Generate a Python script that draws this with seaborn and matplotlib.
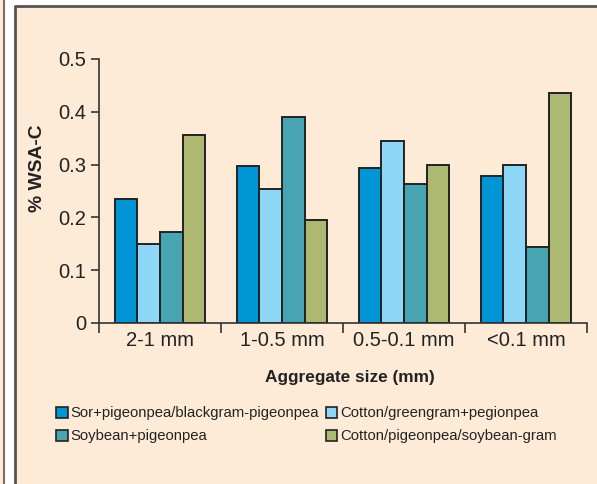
import matplotlib
matplotlib.use("Agg")
import matplotlib.pyplot as plt
from matplotlib.patches import Rectangle, Patch
from matplotlib.lines import Line2D
import seaborn as sns
import pandas as pd

# Aggregate size classes and water-soluble aggregate carbon per cropping system
sizes = ["2-1 mm", "1-0.5 mm", "0.5-0.1 mm", "<0.1 mm"]
systems = [
    "Sor+pigeonpea/blackgram-pigeonpea",
    "Cotton/greengram+pegionpea",
    "Soybean+pigeonpea",
    "Cotton/pigeonpea/soybean-gram",
]
sor_pigeonpea = [0.235, 0.297, 0.293, 0.278]
cotton_greengram = [0.150, 0.254, 0.345, 0.300]
soybean_pigeonpea = [0.172, 0.390, 0.263, 0.144]
cotton_soybean = [0.356, 0.195, 0.300, 0.435]
yticks = [0, 0.1, 0.2, 0.3, 0.4, 0.5]
ytick_labels = ["0", "0.1", "0.2", "0.3", "0.4", "0.5"]

colors = ["#0096D6", "#8ED7F6", "#46A5B0", "#ADB970"]
bg = "#FDEBD8"

values = [sor_pigeonpea, cotton_greengram, soybean_pigeonpea, cotton_soybean]
rows = []
for sys_name, vals in zip(systems, values):
    for size, v in zip(sizes, vals):
        rows.append({"size": size, "system": sys_name, "wsac": v})
df = pd.DataFrame(rows)

sns.set_theme(style="white")
plt.rcParams["font.family"] = ["Liberation Sans", "DejaVu Sans"]

fig = plt.figure(figsize=(5.97, 4.84), dpi=100, facecolor="white")

# framed panel background
W, H = 597, 484
fig.patches.append(Rectangle((0, 0), 3 / W, 1, transform=fig.transFigure,
                             facecolor=bg, edgecolor="none", zorder=-3))
fig.add_artist(Line2D([3.5 / W, 3.5 / W], [0, 1], transform=fig.transFigure,
                      color="#7A6E62", lw=1.5, zorder=-2))
fig.patches.append(Rectangle((14 / W, 0), 1 - 14 / W, 1 - 5 / H,
                             transform=fig.transFigure, facecolor=bg,
                             edgecolor="none", zorder=-3))
fig.add_artist(Line2D([14.5 / W, 14.5 / W, 1], [0, 1 - 5.5 / H, 1 - 5.5 / H],
                      transform=fig.transFigure, color="#555555", lw=2.0, zorder=-2))

ax = fig.add_axes([99 / W, 1 - 323 / H, (587 - 99) / W, (323 - 59) / H])
ax.set_zorder(2)
ax.set_facecolor("none")

sns.barplot(data=df, x="size", y="wsac", hue="system", order=sizes,
            hue_order=systems, palette=colors, width=0.74, ax=ax,
            edgecolor="#222222", linewidth=1.4, saturation=1, errorbar=None)
ax.legend_.remove()

ax.set_xlim(-0.5, 3.5)
ax.set_ylim(0, 0.5)
ax.set_yticks(yticks)
ax.set_yticklabels(ytick_labels)
ax.set_xticks([-0.5, 0.5, 1.5, 2.5, 3.5])
ax.set_xticklabels([])
ax.set_xticks(range(len(sizes)), minor=True)
ax.set_xticklabels(sizes, minor=True)
ax.tick_params(axis="x", which="major", direction="out", length=7, width=1.2,
               color="#333333", bottom=True)
ax.tick_params(axis="x", which="minor", length=0, labelsize=14.5, pad=6,
               labelcolor="#222222")
ax.tick_params(axis="y", direction="out", length=6, width=1.2, color="#333333",
               left=True, labelsize=14.5, pad=3, labelcolor="#222222")

for s in ["top", "right"]:
    ax.spines[s].set_visible(False)
for s in ["left", "bottom"]:
    ax.spines[s].set_color("#333333")
    ax.spines[s].set_linewidth(1.2)

ax.set_xlabel("Aggregate size (mm)", fontsize=12.4, fontweight="bold",
              color="#222222")
ax.set_ylabel("% WSA-C", fontsize=13.9, fontweight="bold", color="#222222")
ax.xaxis.set_label_coords(0.514, -0.207, transform=ax.transAxes)
ax.yaxis.set_label_coords(-0.125, 0.587, transform=ax.transAxes)
ax.xaxis.label.set_va("center")
ax.yaxis.label.set_va("center")

handles = [Patch(facecolor=c, edgecolor="#222222", linewidth=1.2) for c in colors]
order = [0, 2, 1, 3]
fig.legend([handles[i] for i in order], [systems[i] for i in order],
           loc="upper left", bbox_to_anchor=(43 / W, 1 - 393 / H), ncol=2,
           frameon=False, fontsize=10.7, handlelength=0.75, handleheight=0.75,
           handletextpad=0.2, columnspacing=0.45, labelspacing=0.6,
           labelcolor="#222222")

fig.savefig("out.png", dpi=100, facecolor="white")
